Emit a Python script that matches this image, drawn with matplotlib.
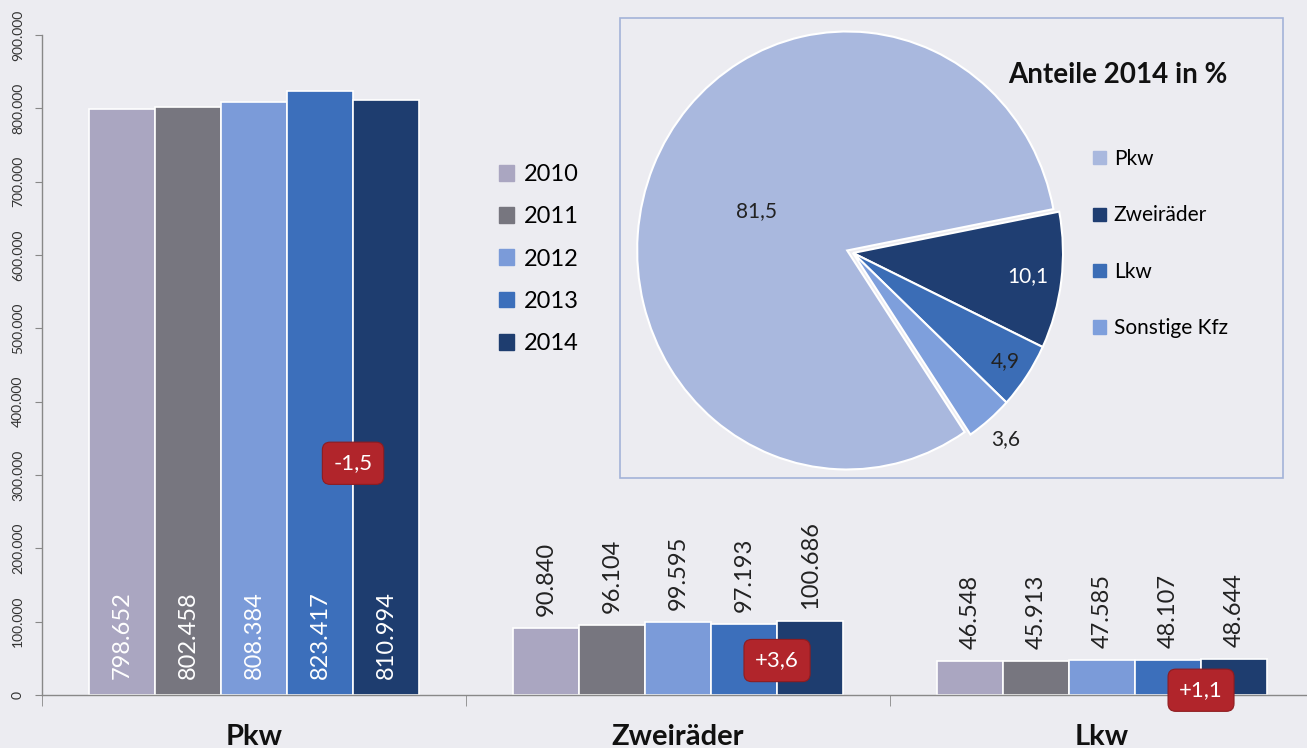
import matplotlib
matplotlib.use("Agg")
import matplotlib.pyplot as plt
from matplotlib.patches import Patch, Rectangle
import numpy as np

plt.rcParams["font.family"] = ["Lato", "DejaVu Sans"]

# Bestand nach Fahrzeugart
categories = ["Pkw", "Zweiräder", "Lkw"]
years = ["2010", "2011", "2012", "2013", "2014"]
values = {
    "2010": [798652, 90840, 46548],
    "2011": [802458, 96104, 45913],
    "2012": [808384, 99595, 47585],
    "2013": [823417, 97193, 48107],
    "2014": [810994, 100686, 48644],
}
changes = ["-1,5", "+3,6", "+1,1"]
change_y = [316000, 47000, 6500]

# Anteile 2014 in %
pie_labels = ["Pkw", "Zweiräder", "Lkw", "Sonstige Kfz"]
pie_values = [81.5, 10.1, 4.9, 3.6]
pie_text = ["81,5", "10,1", "4,9", "3,6"]

bar_colors = ["#aaa6c1", "#77767f", "#7b9bd9", "#3c6fbb", "#1e3d6f"]
pie_colors = ["#a9b8de", "#1f3e72", "#3b6db6", "#7e9fdc"]
bg = "#ececf1"
W, H = 1307, 748


def fmt(v):
    return f"{v:,}".replace(",", ".")


fig = plt.figure(figsize=(W / 100, H / 100), dpi=100, facecolor=bg)
ax = fig.add_axes([42 / W, (H - 695) / H, 1272 / W, 660 / H])
ax.set_facecolor("none")

x = np.arange(len(categories))
bw = 0.1557
for i, yr in enumerate(years):
    xs = x + (i - 2) * bw
    ax.bar(xs, values[yr], bw, color=bar_colors[i], edgecolor="white",
           linewidth=1.2, label=yr, zorder=2)
    for j, (xx, v) in enumerate(zip(xs, values[yr])):
        if j == 0:
            ax.annotate(fmt(v), (xx, 0), xytext=(0, 16), textcoords="offset pixels",
                        rotation=90, ha="center", va="bottom", color="white",
                        fontsize=17, zorder=3)
        else:
            ax.annotate(fmt(v), (xx, v), xytext=(0, 12), textcoords="offset pixels",
                        rotation=90, ha="center", va="bottom", color="#222222",
                        fontsize=17, zorder=3)

for j, (t, yy) in enumerate(zip(changes, change_y)):
    ax.text(x[j] + 1.5 * bw, yy, t, ha="center", va="center", color="white",
            fontsize=16, zorder=4,
            bbox=dict(boxstyle="round,pad=0.5,rounding_size=0.35",
                      fc="#b1252b", ec="#8e1c20", lw=0.8))

ax.set_ylim(0, 900000)
ax.set_xlim(-0.5, 2.5)
ax.set_yticks(np.arange(0, 900001, 100000))
ax.set_yticklabels([fmt(v) for v in range(0, 900001, 100000)],
                   rotation=90, va="center", fontsize=10, color="#333333")
ax.set_xticks(x)
ax.set_xticklabels(categories, fontsize=21, fontweight="bold", color="#111111")
ax.tick_params(axis="x", which="major", length=0, pad=21)
ax.set_xticks([-0.5, 0.5, 1.5, 2.5], minor=True)
ax.tick_params(axis="x", which="minor", length=8, color="#888888", direction="out")
ax.tick_params(axis="y", length=5, color="#888888", pad=8)
for s in ["top", "right"]:
    ax.spines[s].set_visible(False)
for s in ["left", "bottom"]:
    ax.spines[s].set_color("#888888")
    ax.spines[s].set_linewidth(1.0)

handles = [Patch(color=c) for c in bar_colors]
fig.legend(handles, years, loc="upper left", bbox_to_anchor=(499 / W, 1 - 164 / H),
           frameon=False, fontsize=17, labelspacing=0.9, handlelength=0.65,
           handleheight=0.65, handletextpad=0.4, borderpad=0, borderaxespad=0)

# Inset mit Kreisdiagramm
fig.patches.append(Rectangle((620 / W, 1 - 478 / H), 663 / W, 460 / H,
                             transform=fig.transFigure, fc=bg, ec="#a3b3d8",
                             lw=1.2, zorder=-1))

pax = fig.add_axes([643 / W, 1 - 472 / H, 420 / W, 438 / H])
pax.set_zorder(3)
start = -56
wedges, _ = pax.pie(pie_values, colors=pie_colors, startangle=start,
                    counterclock=False, explode=[0.03, 0, 0, 0],
                    wedgeprops=dict(edgecolor="white", linewidth=1.5))
pax.set_aspect("auto")
pax.set_xlim(-1, 1)
pax.set_ylim(-1, 1)

dist = [0.5, 0.84, 0.88, 1.12]
txt_col = ["#222222", "white", "#222222", "#222222"]
for w, t, d, c in zip(wedges, pie_text, dist, txt_col):
    a = np.deg2rad((w.theta1 + w.theta2) / 2)
    pax.text(d * np.cos(a), d * np.sin(a), t, ha="center", va="center",
             fontsize=15, color=c)

fig.text(1118 / W, 1 - 75 / H, "Anteile 2014 in %", ha="center", va="center",
         fontsize=20, fontweight="bold", color="#111111", zorder=4)
ph = [Patch(color=c) for c in pie_colors]
fig.legend(ph, pie_labels, loc="upper left", bbox_to_anchor=(1093 / W, 1 - 149 / H),
           frameon=False, fontsize=15, labelspacing=1.75, handlelength=0.6,
           handleheight=0.6, handletextpad=0.4, borderpad=0, borderaxespad=0)

fig.savefig("out.png", dpi=100, facecolor=bg)
